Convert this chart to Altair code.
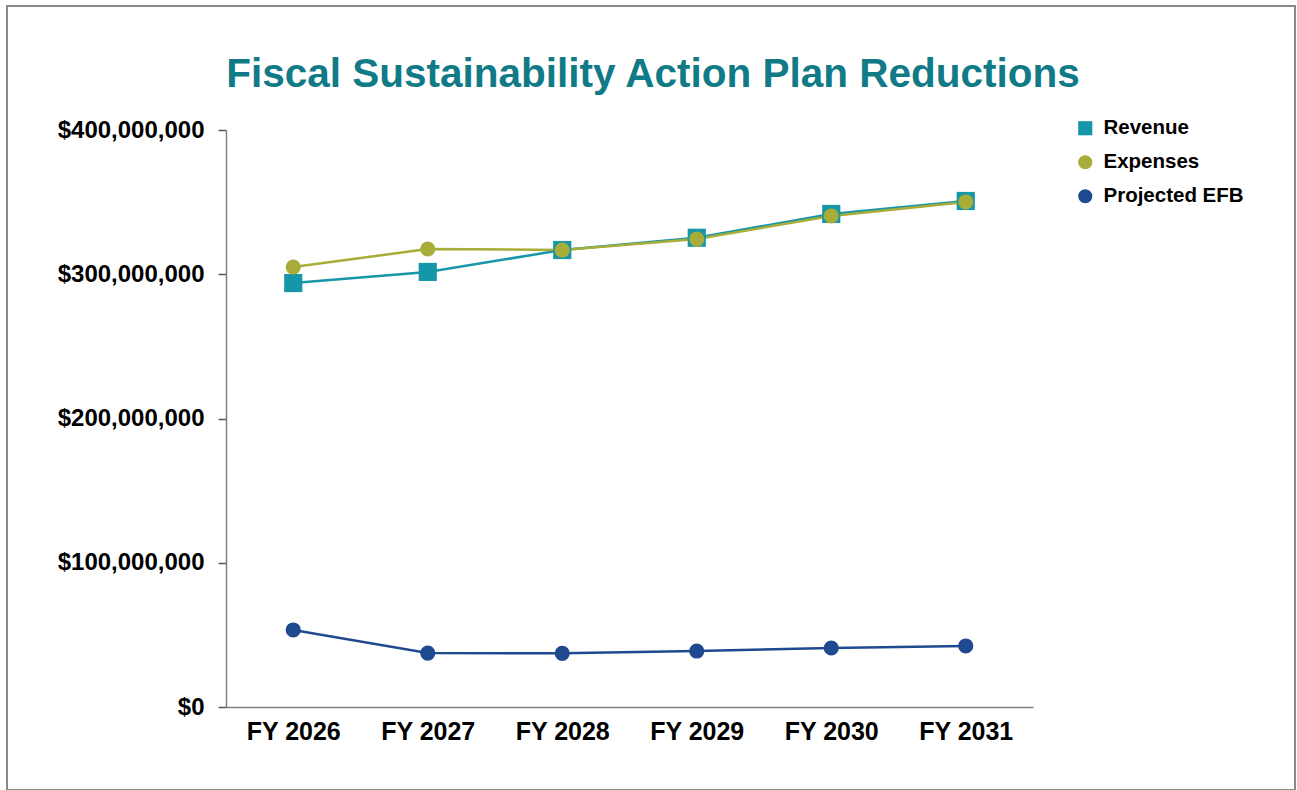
import altair as alt
import pandas as pd

years = ["FY 2026", "FY 2027", "FY 2028", "FY 2029", "FY 2030", "FY 2031"]
revenue = [293.9e6, 301.6e6, 316.8e6, 325.3e6, 341.8e6, 350.8e6]
expenses = [305.0e6, 317.5e6, 316.8e6, 324.4e6, 340.4e6, 350.1e6]
efb = [53.4e6, 37.4e6, 37.2e6, 38.8e6, 40.9e6, 42.3e6]

series_names = ["Revenue", "Expenses", "Projected EFB"]
colors = ["#1596A9", "#A8AC38", "#1F4A8F"]
shapes = ["square", "circle", "circle"]

rows = []
for name, vals in zip(series_names, [revenue, expenses, efb]):
    for y, v in zip(years, vals):
        rows.append({"year": y, "value": v, "series": name})
df = pd.DataFrame(rows)

FONT = "Liberation Sans"
# the view is the framed box; data are drawn in an inner region of it
FX, FY = 7, 6
W, H = 1288, 784
X0, X1 = 226 - FX, 1033 - FX
Y0, Y1 = 707 - FY, 130 - FY

x = alt.X("year:N", sort=years, title=None,
          scale=alt.Scale(type="point", padding=0.5, range=[X0, X1]),
          axis=alt.Axis(labelAngle=0, ticks=False, labelPadding=12, offset=-(H - Y0),
                        labelFontSize=25, labelFontWeight="bold",
                        labelColor="#000000", labelFont=FONT,
                        domainColor="#808080", domainWidth=1.5))
y = alt.Y("value:Q", title=None,
          scale=alt.Scale(domain=[0, 400e6], nice=False, range=[Y0, Y1]),
          axis=alt.Axis(values=[0, 100e6, 200e6, 300e6, 400e6], format="$,.0f",
                        grid=False, tickSize=8, tickColor="#555555", tickWidth=1.5,
                        offset=-X0,
                        labelPadding=14, labelFontSize=24, labelFontWeight="bold",
                        labelColor="#000000", labelFont=FONT,
                        domainColor="#808080", domainWidth=1.5))

color_scale = alt.Scale(domain=series_names, range=colors)
shape_scale = alt.Scale(domain=series_names, range=shapes)

legend = alt.Legend(title=None, orient="none", legendX=1068, legendY=112,
                    labelFontSize=20.5, labelFontWeight="bold", labelFont=FONT,
                    labelColor="#000000", symbolSize=200, rowPadding=13,
                    labelOffset=8, symbolStrokeWidth=0)

base = alt.Chart(df)

lines = base.mark_line(strokeWidth=2.5).encode(
    x=x, y=y,
    stroke=alt.Stroke("series:N", scale=color_scale, legend=legend),
    detail="series:N",
)

rev_pts = base.transform_filter(alt.datum.series == "Revenue").mark_point(
    filled=True, size=330, opacity=1).encode(
    x=x, y=y,
    color=alt.Color("series:N", scale=color_scale, legend=legend),
    shape=alt.Shape("series:N", scale=shape_scale, legend=legend),
)
other_pts = base.transform_filter(alt.datum.series != "Revenue").mark_point(
    filled=True, size=230, opacity=1).encode(
    x=x, y=y,
    color=alt.Color("series:N", scale=color_scale, legend=legend),
    shape=alt.Shape("series:N", scale=shape_scale, legend=legend),
)

chart = alt.layer(lines, rev_pts, other_pts).properties(
    width=W, height=H,
    background="white",
    title=alt.TitleParams("Fiscal Sustainability Action Plan Reductions",
                          fontSize=40.5, font=FONT, fontWeight="bold",
                          color="#107A87", anchor="middle", frame="group",
                          offset=-89, dx=2),
    autosize=alt.AutoSizeParams(type="none"),
    padding={"left": FX, "top": FY, "right": 1297 - FX - W, "bottom": 0},
).configure_view(stroke="#8a8a8a", strokeWidth=2)

chart.save("out.html", embed_options={"renderer": "svg", "actions": False})
